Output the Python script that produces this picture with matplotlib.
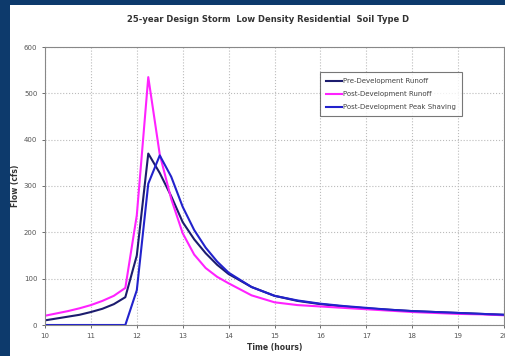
import matplotlib
matplotlib.use('Agg')
import matplotlib.pyplot as plt
from matplotlib.patches import Rectangle

# time (hours)
hours = [10, 10.25, 10.5, 10.75, 11, 11.25, 11.5, 11.75, 12, 12.25, 12.5, 12.75,
         13, 13.25, 13.5, 13.75, 14, 14.5, 15, 15.5, 16, 16.5, 17, 17.5, 18,
         18.5, 19, 19.5, 20]

pre_dev = [10, 14, 18, 22, 28, 35, 45, 60, 150, 370, 328, 278,
           222, 185, 155, 130, 110, 82, 63, 52, 45, 40, 36, 33, 30,
           28, 26, 24, 22]

post_dev = [20, 25, 30, 36, 43, 52, 63, 80, 237, 535, 368, 272,
            198, 152, 123, 104, 90, 64, 49, 43, 40, 37, 34, 31, 28,
            26, 24, 23, 21]

peak_shaving = [0, 0, 0, 0, 0, 0, 0, 0, 75, 305, 366, 320,
                255, 205, 167, 137, 113, 82, 63, 53, 46, 41, 37, 33, 30,
                28, 26, 24, 22]

labels = ['Pre-Development Runoff', 'Post-Development Runoff',
          'Post-Development Peak Shaving']

fig = plt.figure(figsize=(5.06, 3.56), dpi=100)
fig.patch.set_facecolor('#0d3a6c')
fig.add_artist(Rectangle((10 / 506, 0), 1, 1 - 5 / 356, transform=fig.transFigure,
                         facecolor='white', edgecolor='none', zorder=-5))

ax = fig.add_axes([45 / 506, 1 - 325 / 356, 459 / 506, 278 / 356])
ax.plot(hours, pre_dev, color='#1c1c6e', lw=1.5, label=labels[0])
ax.plot(hours, post_dev, color='#ff22ff', lw=1.5, label=labels[1])
ax.plot(hours, peak_shaving, color='#2222cc', lw=1.5, label=labels[2])

ax.set_xlim(10, 20)
ax.set_ylim(0, 600)
ax.set_xticks(range(10, 21))
ax.set_yticks(range(0, 601, 100))
ax.grid(True, color='#bbbbbb', linestyle=':', linewidth=0.8)
ax.tick_params(labelsize=5, colors='#555555', length=2, width=0.6)
for s in ax.spines.values():
    s.set_color('#888888')
    s.set_linewidth(0.8)

ax.set_xlabel('Time (hours)', fontsize=5.5, fontweight='bold', color='#333333', labelpad=3)
ax.set_ylabel('Flow (cfs)', fontsize=5.5, fontweight='bold', color='#333333', labelpad=6)
ax.yaxis.set_label_coords(-0.055, 0.5)
fig.text(0.53, 1 - 19 / 356, '25-year Design Storm  Low Density Residential  Soil Type D',
         ha='center', va='center', fontsize=6, fontweight='bold', color='#333333')

leg = ax.legend(loc='upper right', bbox_to_anchor=(0.909, 0.91), fontsize=5,
                frameon=True, fancybox=False, handlelength=2.2, borderpad=0.9,
                labelspacing=1.0, handletextpad=0.2, borderaxespad=0)
leg.get_frame().set_edgecolor('#555555')
leg.get_frame().set_linewidth(0.8)
for t in leg.get_texts():
    t.set_color('#444444')

fig.savefig('out.png', dpi=100, facecolor=fig.get_facecolor())
